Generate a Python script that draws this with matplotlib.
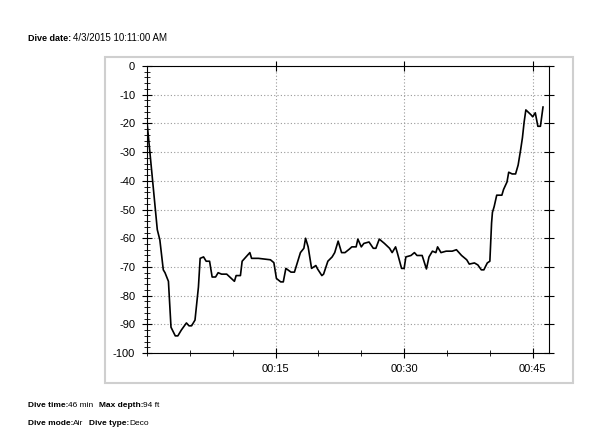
import matplotlib
matplotlib.use("Agg")
import matplotlib.pyplot as plt
from matplotlib.patches import Rectangle
from matplotlib.ticker import MultipleLocator, FuncFormatter

plt.rcParams['font.family'] = ['Liberation Sans', 'DejaVu Sans']

# dive profile, time in minutes, depth in ft (negative)
minutes = [0, 1.2, 1.5, 1.9, 2.1, 2.5, 2.8, 3.3, 3.6, 4.0, 4.6, 4.9, 5.2, 5.6, 6.0, 6.2,
           6.6, 6.9, 7.3, 7.6, 8.0, 8.3, 8.7, 9.3, 10.2, 10.4, 10.9, 11.1, 12.0, 12.2,
           13.0, 14.4, 14.8, 15.1, 15.6, 15.9, 16.2, 16.8, 17.2, 17.9, 18.3, 18.5, 18.8,
           19.2, 19.7, 19.9, 20.4, 20.6, 21.1, 21.6, 21.9, 22.3, 22.7, 23.1, 23.6, 23.9,
           24.4, 24.6, 25.0, 25.3, 25.9, 26.4, 26.7, 27.1, 27.7, 28.3, 28.6, 29.0, 29.2,
           29.7, 30.0, 30.2, 30.8, 31.2, 31.5, 32.1, 32.6, 32.9, 33.3, 33.7, 33.9, 34.3,
           34.9, 35.6, 36.1, 36.7, 37.3, 37.6, 38.2, 38.6, 39.0, 39.3, 39.7, 40.0, 40.2,
           40.3, 40.5, 40.8, 41.4, 41.6, 42.0, 42.2, 42.6, 43.0, 43.3, 43.6, 43.8, 44.0,
           44.2, 44.8, 45.0, 45.3, 45.6, 45.9, 46.2]
depth = [-19.5, -57, -60.6, -71, -72, -75, -91, -94, -94, -92, -89.5, -90.5, -90.5, -88.5,
         -77, -67, -66.5, -68, -68, -73.5, -73.5, -72, -72.5, -72.5, -75, -73, -73, -68,
         -65, -67, -67, -67.5, -68.5, -74, -75.2, -75.2, -70.5, -71.8, -71.8, -65, -63.5,
         -60, -63, -70.5, -69.5, -70.7, -73, -72.5, -68, -66.5, -65, -61, -65, -65, -63.8,
         -63, -63, -60.3, -63, -61.8, -61.3, -63.5, -63.5, -60.3, -61.8, -63.5, -65, -63,
         -65, -70.5, -70.5, -66.5, -66, -65, -66, -66, -70.7, -66.5, -64.5, -65, -63, -65,
         -64.5, -64.5, -64, -66, -67.5, -69, -68.6, -69.3, -71, -71, -68.6, -68, -54.7,
         -51, -49, -45, -45, -43, -40.4, -37, -37.6, -37.6, -34.5, -29, -25, -19.5,
         -15.3, -17, -17.7, -16.3, -21, -21, -14.3]

x_ticks = [15, 30, 45]
y_ticks = list(range(0, -101, -10))

fig = plt.figure(figsize=(6, 4.37), dpi=100)

# light frame around the chart
fig.patches.append(Rectangle((0.175, 0.1236), 0.78, 0.746, transform=fig.transFigure,
                             fill=False, edgecolor='#cfcfcf', linewidth=1.5))

ax = fig.add_axes([0.245, 0.192, 0.67, 0.657])
ax.plot(minutes, depth, color='black', linewidth=1.2)

ax.set_xlim(0, 46.9)
ax.set_ylim(-100, 0)
ax.set_xticks(x_ticks)
ax.set_yticks(y_ticks)
ax.xaxis.set_minor_locator(MultipleLocator(5))
ax.yaxis.set_minor_locator(MultipleLocator(2))
ax.xaxis.set_major_formatter(FuncFormatter(lambda v, p: "00:%02d" % int(v)))
ax.yaxis.set_major_formatter(FuncFormatter(lambda v, p: "%d" % v))

ax.tick_params(which='major', direction='inout', length=7, width=0.8, labelsize=8,
               top=True, right=True, colors='black')
ax.tick_params(which='minor', direction='inout', length=4, width=0.6,
               top=False, right=False)
ax.tick_params(axis='y', pad=5)
ax.tick_params(axis='x', pad=4)

ax.grid(True, which='major', linestyle=(0, (1, 2)), color='#999999', linewidth=0.8)
for s in ax.spines.values():
    s.set_linewidth(0.8)

fig.text(0.047, 0.913, "Dive date:", fontsize=6.5, fontweight='bold', va='center')
fig.text(0.122, 0.913, "4/3/2015 10:11:00 AM", fontsize=7, va='center')

fig.text(0.047, 0.073, "Dive time:", fontsize=6, fontweight='bold', va='center')
fig.text(0.113, 0.073, "46 min", fontsize=6, va='center')
fig.text(0.165, 0.073, "Max depth:", fontsize=6, fontweight='bold', va='center')
fig.text(0.238, 0.073, "94 ft", fontsize=6, va='center')

fig.text(0.047, 0.030, "Dive mode:", fontsize=6, fontweight='bold', va='center')
fig.text(0.122, 0.030, "Air", fontsize=6, va='center')
fig.text(0.148, 0.030, "Dive type:", fontsize=6, fontweight='bold', va='center')
fig.text(0.215, 0.030, "Deco", fontsize=6, va='center')

fig.savefig("out.png", dpi=100)
